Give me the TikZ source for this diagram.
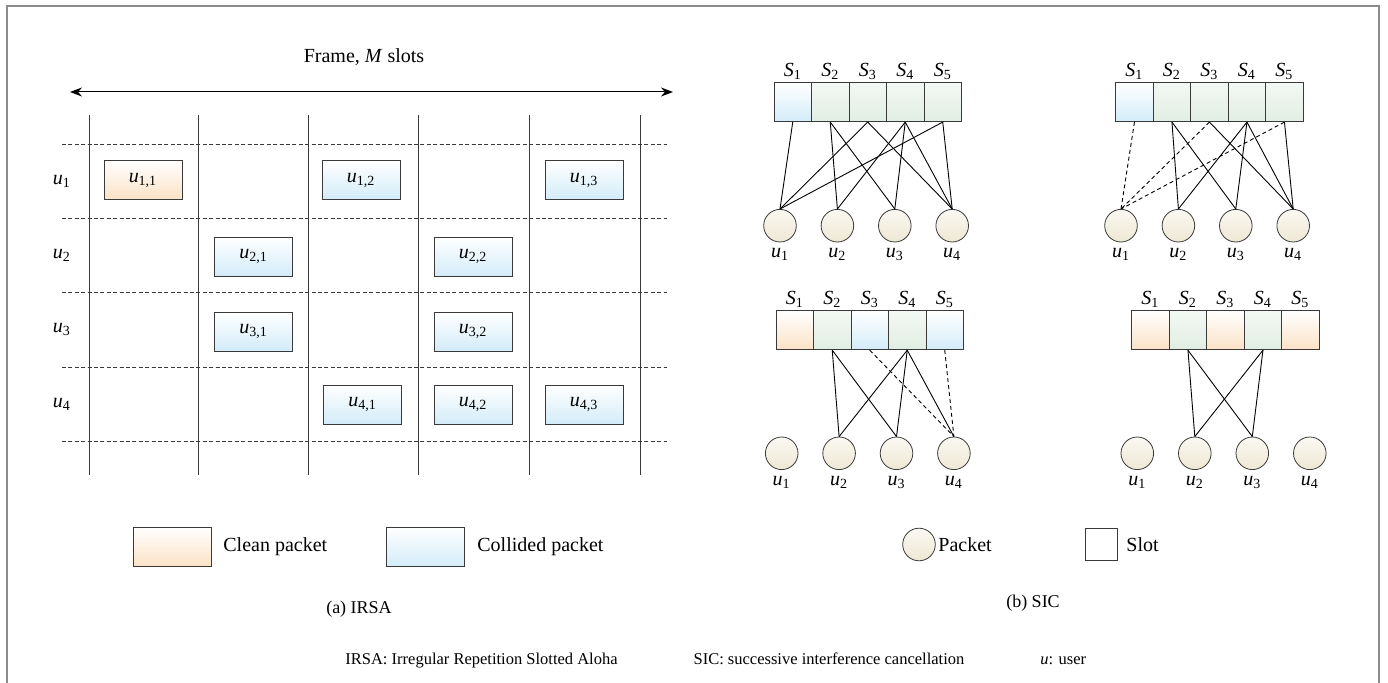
\documentclass[tikz,border=0pt]{standalone}
\usepackage{amsmath}
\usepackage{fontspec}
\setmainfont{Liberation Serif}
\usetikzlibrary{positioning,arrows.meta}

\definecolor{cleanfill}{HTML}{FBE2C6}
\definecolor{collfill}{HTML}{D3ECF9}
\definecolor{ackfill}{HTML}{E1EEE3}
\definecolor{pktfill}{HTML}{EEE8D4}
\definecolor{edgegray}{HTML}{3A3A3A}
\definecolor{framegray}{HTML}{8C8C8C}

\newcommand{\usr}[1]{\ensuremath{\textit{u}_{\text{#1}}}}
\newcommand{\slt}[1]{\ensuremath{\textit{S}_{\text{#1}}}}

\tikzset{
  pktbox/.style={draw=edgegray, minimum width=39pt, minimum height=19.5pt, inner sep=0pt},
  slotbox/.style={draw=edgegray, minimum width=18.75pt, minimum height=19.5pt, inner sep=0pt},
  clean/.style={top color=white, bottom color=cleanfill},
  collided/.style={top color=white, bottom color=collfill},
  decoded/.style={top color=ackfill!40, bottom color=ackfill},
  user/.style={circle, draw=edgegray, minimum size=16.3pt, inner sep=0pt, top color=pktfill!30, bottom color=pktfill},
  link/.style={line width=0.45pt},
  gone/.style={line width=0.45pt, dash pattern=on 2pt off 1.5pt},
  grid/.style={line width=0.45pt, edgegray},
  txt/.style={inner sep=0pt, anchor=west},
  caption/.style={font=\fontsize{9}{11}\selectfont},
}

\begin{document}
\begin{tikzpicture}[x=0.5pt, y=-0.5pt]
\useasboundingbox (0,0) rectangle (1388,683);
\draw[framegray, line width=1pt] (7,683) -- (7,6) -- (1379,6) -- (1379,683);

% (a) IRSA
\node (frame) at (364,57) {Frame, \textit{M} slots};
\coordinate (fl) at (70,92);
\coordinate (fr) at (673,92);
\draw[{Stealth[length=6pt]}-{Stealth[length=6pt]}, line width=0.5pt] (fl) -- (fr);
\foreach \x in {89,198,308,418,529,640}
  \draw[grid] (\x,115) -- (\x,475);
\foreach \y in {144,218.5,292.5,367,441}
  \draw[grid, dash pattern=on 2pt off 1.2pt] (62,\y) -- (667,\y);
\node (r1) at (62,181.5) {\usr{1}};
\node (r2) at (62,255.5) {\usr{2}};
\node (r3) at (62,329.5) {\usr{3}};
\node (r4) at (62,404) {\usr{4}};
\node[pktbox, clean] (p11) at (143,180) {\usr{1,1}};
\node[pktbox, collided] (p12) at (361,180) {\usr{1,2}};
\node[pktbox, collided] (p13) at (584,180) {\usr{1,3}};
\node[pktbox, collided] (p21) at (253.5,256.5) {\usr{2,1}};
\node[pktbox, collided] (p22) at (473,256.5) {\usr{2,2}};
\node[pktbox, collided] (p31) at (253.5,331.5) {\usr{3,1}};
\node[pktbox, collided] (p32) at (473,331.5) {\usr{3,2}};
\node[pktbox, collided] (p41) at (362.5,404.5) {\usr{4,1}};
\node[pktbox, collided] (p42) at (473,404.5) {\usr{4,2}};
\node[pktbox, collided] (p43) at (584,404.5) {\usr{4,3}};
\node[pktbox, clean] (lgclean) at (172.5,547) {};
\node[txt] (lgcleantxt) at (223,547) {Clean packet};
\node[pktbox, collided] (lgcoll) at (425.5,547) {};
\node[txt] (lgcolltxt) at (477,547) {Collided packet};
\node[caption] (capa) at (359,609) {(a) IRSA};

% (b) SIC, top left
\foreach \i/\c in {1/collided,2/decoded,3/decoded,4/decoded,5/decoded}
  \node[slotbox, \c, label={[inner sep=1pt]above:\slt{\i}}] (A-S\i) at ({774+37.5*\i-18.75},102.2) {};
\foreach \i in {1,...,4}
  \node[user, label={[inner sep=3pt]below:\usr{\i}}] (A-u\i) at ({780+57.4*\i-57.4},225.7) {};
\foreach \s/\u in {1/1,2/2,2/3,3/1,3/4,4/2,4/3,4/4,5/1,5/4}
  \draw[link] (A-S\s.south) -- (A-u\u.north);

% top right
\foreach \i/\c in {1/collided,2/decoded,3/decoded,4/decoded,5/decoded}
  \node[slotbox, \c, label={[inner sep=1pt]above:\slt{\i}}] (B-S\i) at ({1115.7+37.5*\i-18.75},102.2) {};
\foreach \i in {1,...,4}
  \node[user, label={[inner sep=3pt]below:\usr{\i}}] (B-u\i) at ({1121+57.4*\i-57.4},225.7) {};
\foreach \s/\u in {2/2,2/3,3/4,4/2,4/3,4/4,5/4}
  \draw[link] (B-S\s.south) -- (B-u\u.north);
\foreach \s in {1,3,5}
  \draw[gone] (B-S\s.south) -- (B-u1.north);

% bottom left
\foreach \i/\c in {1/clean,2/decoded,3/collided,4/decoded,5/collided}
  \node[slotbox, \c, label={[inner sep=1pt]above:\slt{\i}}] (C-S\i) at ({776+37.5*\i-18.75},330.3) {};
\foreach \i in {1,...,4}
  \node[user, label={[inner sep=3pt]below:\usr{\i}}] (C-u\i) at ({781.7+57.4*\i-57.4},453.3) {};
\foreach \s/\u in {2/2,2/3,4/2,4/3,4/4}
  \draw[link] (C-S\s.south) -- (C-u\u.north);
\foreach \s in {3,5}
  \draw[gone] (C-S\s.south) -- (C-u4.north);

% bottom right
\foreach \i/\c in {1/clean,2/decoded,3/clean,4/decoded,5/clean}
  \node[slotbox, \c, label={[inner sep=1pt]above:\slt{\i}}] (D-S\i) at ({1131.7+37.5*\i-18.75},330.3) {};
\foreach \i in {1,...,4}
  \node[user, label={[inner sep=3pt]below:\usr{\i}}] (D-u\i) at ({1137.3+57.5*\i-57.5},453.3) {};
\foreach \s/\u in {2/2,2/3,4/2,4/3}
  \draw[link] (D-S\s.south) -- (D-u\u.north);

% legend and captions
\node[user] (lgpkt) at (919,544.5) {};
\node[txt] (lgpkttxt) at (938,544.5) {Packet};
\node[draw=edgegray, minimum size=16pt, inner sep=0pt] (lgslot) at (1101,544.5) {};
\node[txt] (lgslottxt) at (1126,544.5) {Slot};
\node[caption] (capb) at (1033,603) {(b) SIC};
\node[txt, font=\fontsize{8.25}{10}\selectfont] (foot) at (345,660) {IRSA: Irregular Repetition Slotted Aloha\hspace{38pt}SIC: successive interference cancellation\hspace{38pt}\textit{u}: user};
\end{tikzpicture}
\end{document}
